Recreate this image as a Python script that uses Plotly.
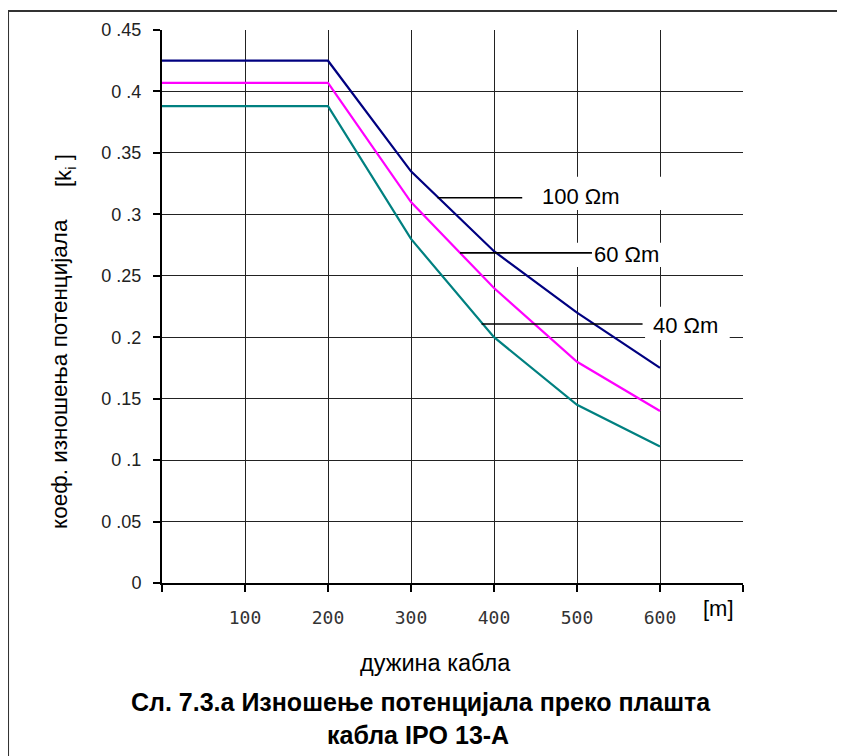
import plotly.graph_objects as go

# ---- data ----
cable_length = [0, 100, 200, 300, 400, 500, 600]
k_100 = [0.425, 0.425, 0.425, 0.335, 0.270, 0.220, 0.175]
k_60 = [0.407, 0.407, 0.407, 0.310, 0.240, 0.180, 0.140]
k_40 = [0.388, 0.388, 0.388, 0.280, 0.200, 0.145, 0.111]
series_names = ["100 Ωm", "60 Ωm", "40 Ωm"]
series_colors = ["#000080", "#FF00FF", "#008080"]

x_tickvals = [0, 100, 200, 300, 400, 500, 600, 700]
x_ticktext = ["", "100", "200", "300", "400", "500", "600", ""]
y_tickvals = [0, 0.05, 0.1, 0.15, 0.2, 0.25, 0.3, 0.35, 0.4, 0.45]
y_ticktext = ["0", "0 .05", "0 .1", "0 .15", "0 .2", "0 .25", "0 .3", "0 .35", "0 .4", "0 .45"]

# curve labels with leader lines
label_text = ["100 Ωm", "60 Ωm", "40 Ωm"]
label_x = [456, 518, 589]
label_y = [0.3142, 0.2670, 0.2092]
leader_x0 = [332, 359, 385]
leader_x1 = [434, 518, 579]
leader_y = [0.3135, 0.2686, 0.2108]
box_x0 = [442, 485, 582]
box_x1 = [648, 650, 684]
box_y0 = [0.3036, 0.2572, 0.1978]
box_y1 = [0.3305, 0.2768, 0.2247]

FONT = "Liberation Sans, Arial, sans-serif"

fig = go.Figure()
for ys, name, col in zip([k_100, k_60, k_40], series_names, series_colors):
    fig.add_trace(go.Scatter(x=cable_length, y=ys, mode="lines", name=name,
                             line=dict(color=col, width=2.2), showlegend=False))

shapes = []
annotations = []
for i in range(3):
    shapes.append(dict(type="rect", xref="x", yref="y", x0=box_x0[i], x1=box_x1[i],
                       y0=box_y0[i], y1=box_y1[i], fillcolor="white",
                       line=dict(width=0), layer="between"))
for i in range(3):
    shapes.append(dict(type="line", xref="x", yref="y", x0=leader_x0[i], x1=leader_x1[i],
                       y0=leader_y[i], y1=leader_y[i], line=dict(color="black", width=1.6),
                       layer="above"))
    annotations.append(dict(x=label_x[i], y=label_y[i], xref="x", yref="y", text=label_text[i],
                            showarrow=False, xanchor="left", yanchor="middle",
                            font=dict(family=FONT, size=22, color="black")))

# outer frame
shapes.append(dict(type="rect", xref="paper", yref="paper", x0=-0.265, x1=1.3, y0=-0.4, y1=1.0344,
                   line=dict(color="#333333", width=2), fillcolor="rgba(0,0,0,0)", layer="above"))

annotations += [
    dict(x=-0.1756, y=0.378, xref="paper", yref="paper", text="коеф. изношења потенцијала",
         textangle=-90, showarrow=False, xanchor="center", yanchor="middle",
         font=dict(family=FONT, size=22.5, color="black")),
    dict(x=-0.167, y=0.7468, xref="paper", yref="paper", text="[k<sub>i</sub> ]",
         textangle=-90, showarrow=False, xanchor="center", yanchor="middle",
         font=dict(family=FONT, size=22, color="black")),
    dict(x=670, y=-0.047, xref="x", yref="paper", text="[m]", showarrow=False,
         xanchor="center", yanchor="middle",
         font=dict(family=FONT, size=22, color="black")),
    dict(x=0.4707, y=-0.1447, xref="paper", yref="paper", text="дужина кабла", showarrow=False,
         xanchor="center", yanchor="middle",
         font=dict(family=FONT, size=23.5, color="black")),
    dict(x=0.4462, y=-0.2152, xref="paper", yref="paper",
         text="<b>Сл. 7.3.а Изношење потенцијала преко плашта</b>", showarrow=False,
         xanchor="center", yanchor="middle",
         font=dict(family=FONT, size=25, color="black")),
    dict(x=0.4402, y=-0.2748, xref="paper", yref="paper",
         text="<b>кабла IPO 13-A</b>", showarrow=False,
         xanchor="center", yanchor="middle",
         font=dict(family=FONT, size=25, color="black")),
]

fig.update_layout(
    width=837, height=748,
    margin=dict(l=154, r=102, t=22, b=173),
    paper_bgcolor="white", plot_bgcolor="white",
    shapes=shapes, annotations=annotations,
    xaxis=dict(range=[0, 700], tickmode="array", tickvals=x_tickvals, ticktext=x_ticktext,
               showgrid=True, gridcolor="#222222", gridwidth=1,
               showline=True, linecolor="black", linewidth=2,
               ticks="outside", ticklen=7, tickwidth=2, tickcolor="black",
               ticklabelstandoff=10, zeroline=False,
               tickfont=dict(family="DejaVu Sans Mono", size=18, color="#333333")),
    yaxis=dict(range=[0, 0.45], tickmode="array", tickvals=y_tickvals, ticktext=y_ticktext,
               showgrid=True, gridcolor="#222222", gridwidth=1,
               showline=True, linecolor="black", linewidth=2,
               ticks="outside", ticklen=7, tickwidth=2, tickcolor="black",
               ticklabelstandoff=8, zeroline=False,
               tickfont=dict(family=FONT, size=18, color="#222222")),
)

fig.write_html("out.html")
